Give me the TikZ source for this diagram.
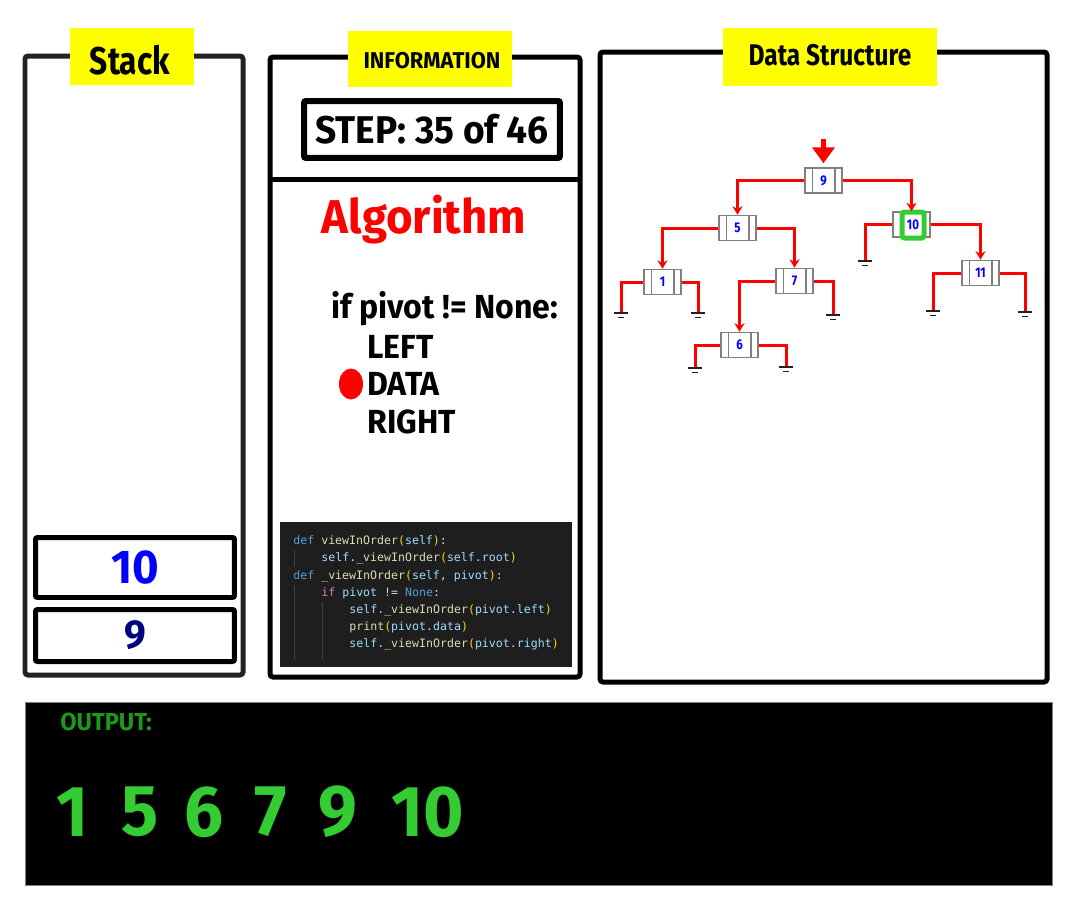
\documentclass[tikz,border=0pt]{standalone}
\usepackage{fontspec}
\setmainfont{Fira Sans}
\newfontfamily\headfont[FakeStretch=0.82]{Fira Sans}
\newfontfamily\widefont[FakeStretch=0.96]{Fira Sans}
\newfontfamily\codefont{DejaVu Sans Mono}
\usetikzlibrary{shapes.geometric,arrows.meta,positioning,calc}
\definecolor{panel_gray}{HTML}{222222}
\definecolor{tag_yellow}{HTML}{FFFF00}
\definecolor{tree_red}{HTML}{FF0000}
\definecolor{hl_green}{HTML}{33CC33}
\definecolor{out_green}{HTML}{1A9A1A}
\definecolor{code_bg}{HTML}{1E1E1E}
\definecolor{code_kw}{HTML}{569CD6}
\definecolor{code_fn}{HTML}{DCDCAA}
\definecolor{code_par}{HTML}{FFD700}
\definecolor{code_var}{HTML}{9CDCFE}
\definecolor{code_ctl}{HTML}{C586C0}
\definecolor{code_txt}{HTML}{D4D4D4}
\definecolor{code_guide}{HTML}{404040}
\newcommand{\ckw}[1]{\textcolor{code_kw}{#1}}
\newcommand{\cfn}[1]{\textcolor{code_fn}{#1}}
\newcommand{\cpar}[1]{\textcolor{code_par}{#1}}
\newcommand{\cvar}[1]{\textcolor{code_var}{#1}}
\newcommand{\cctl}[1]{\textcolor{code_ctl}{#1}}
\newcommand{\hfs}[1]{\headfont\bfseries\fontsize{#1}{#1}\selectfont}
\newcommand{\wfs}[1]{\widefont\bfseries\fontsize{#1}{#1}\selectfont}
\tikzset{panel/.style={draw=black, line width=0.1cm, rounded corners=0.06cm}}
\tikzset{tag/.style={fill=tag_yellow, inner sep=0pt}}
\tikzset{stackbox/.style={draw=black, line width=0.1cm, rounded corners=0.04cm, minimum width=3.98cm, inner sep=0pt}}
\tikzset{treenode/.style={draw=gray, line width=0.03cm, fill=white, minimum width=0.74cm, minimum height=0.5cm, inner sep=0pt, text=blue, font=\hfs{8}}}
\tikzset{link/.style={draw=tree_red, line width=0.06cm, -{Stealth[length=0.17cm, width=0.2cm]}}}
\tikzset{nulllink/.style={draw=tree_red, line width=0.06cm}}
\tikzset{groundbar/.style={draw=panel_gray, line width=0.03cm}}
\tikzset{codeline/.style={anchor=west, inner sep=0pt, text=code_txt, font=\codefont\fontsize{6.6}{6.6}\selectfont}}
\tikzset{pseudo/.style={anchor=west, inner sep=0pt, font=\wfs{19}}}

\begin{document}
\begin{tikzpicture}[x=0.02cm, y=-0.02cm]
  \useasboundingbox (0,0) rectangle (1080,900);

  % panels
  \draw[panel, draw=panel_gray] (25,56) rectangle (243,675);
  \draw[panel] (270,57) rectangle (580,677);
  \draw[panel] (600,52) rectangle (1047,682);
  \draw[line width=0.1cm] (270,179) -- (580,179);
  \draw[fill=black, draw=gray, line width=0.02cm] (25,702) rectangle (1052,885);

  % panel titles
  \node[tag, minimum width=2.48cm, minimum height=1.14cm] (tag-stack) at (132,56.5) {};
  \node[font=\hfs{22}, inner sep=0pt] (title-stack) at (130,60) {Stack};
  \node[tag, minimum width=3.28cm, minimum height=1.12cm] (tag-info) at (430,59) {};
  \node[font=\wfs{13}, inner sep=0pt] (title-info) at (432,61) {INFORMATION};
  \node[tag, minimum width=4.28cm, minimum height=1.16cm] (tag-ds) at (830,57) {};
  \node[font=\hfs{17}, inner sep=0pt] (title-ds) at (830,55) {Data Structure};

  % stack
  \node[stackbox, minimum height=1.2cm, text=blue, font=\wfs{27}] (stack-10) at (135,567.5) {10};
  \node[stackbox, minimum height=1.04cm, text=blue!50!black, font=\wfs{23}] (stack-9) at (135,635.5) {9};

  % information
  \node[draw=black, line width=0.12cm, rounded corners=0.04cm, minimum width=5.12cm, minimum height=1.14cm, font=\wfs{22}] (step) at (432,129.5) {STEP: 35 of 46};
  \node[text=red, font=\wfs{27}, inner sep=0pt] (algo) at (424,220) {Algorithm};
  \node[pseudo] (if-line) at (331,309) {if pivot != None:};
  \node[pseudo] (left-line) at (367,347) {LEFT};
  \node[pseudo] (data-line) at (367,384) {DATA};
  \node[pseudo] (right-line) at (367,422) {RIGHT};
  \node[fill=red, ellipse, minimum width=0.48cm, minimum height=0.62cm, inner sep=0pt] (cursor) at (351,384) {};

  % code
  \fill[code_bg] (280,522) rectangle (572,667);
  \draw[code_guide, line width=0.02cm] (294,550) -- (294,567) (294,585) -- (294,660) (322,602) -- (322,660);
  \node[codeline] (code-1) at (293,541) {\ckw{def} \cfn{viewInOrder}\cpar{(}\cvar{self}\cpar{)}:};
  \node[codeline] (code-2) at (321,558) {\cvar{self}.\cfn{\_viewInOrder}\cpar{(}\cvar{self}.\cvar{root}\cpar{)}};
  \node[codeline] (code-3) at (293,576) {\ckw{def} \cfn{\_viewInOrder}\cpar{(}\cvar{self}, \cvar{pivot}\cpar{)}:};
  \node[codeline] (code-4) at (321,593) {\cctl{if} \cvar{pivot} != \ckw{None}:};
  \node[codeline] (code-5) at (349,610) {\cvar{self}.\cfn{\_viewInOrder}\cpar{(}\cvar{pivot}.\cvar{left}\cpar{)}};
  \node[codeline] (code-6) at (349,627) {\cfn{print}\cpar{(}\cvar{pivot}.\cvar{data}\cpar{)}};
  \node[codeline] (code-7) at (349,644) {\cvar{self}.\cfn{\_viewInOrder}\cpar{(}\cvar{pivot}.\cvar{right}\cpar{)}};

  % tree
  \node[treenode] (n9) at (823.5,180.5) {9};
  \node[treenode] (n5) at (737.5,228) {5};
  \node[treenode] (n10) at (911.5,224.5) {};
  \node[treenode] (n1) at (662.5,282) {1};
  \node[treenode] (n7) at (794.5,281) {7};
  \node[treenode] (n11) at (980.5,273) {11};
  \node[treenode] (n6) at (739.5,345) {6};
  \foreach \n in {n9,n5,n10,n1,n7,n11,n6}
    \draw[gray, line width=0.03cm] ([xshift=0.16cm]\n.north west) -- ([xshift=0.16cm]\n.south west)
      ([xshift=-0.16cm]\n.north east) -- ([xshift=-0.16cm]\n.south east);
  \node[draw=hl_green, line width=0.1cm, rounded corners=0.05cm, fill=white, minimum width=0.44cm, minimum height=0.52cm, inner sep=0pt, text=blue, font=\hfs{8}] (hl10) at (913,225) {10};

  \coordinate (top) at (823.5,139);
  \draw[tree_red, line width=0.1cm, -{Triangle[length=0.32cm, width=0.44cm]}, shorten >=0.08cm] (top) -- (n9.north);

  \draw[link] (n9.west) -| (n5.north);
  \draw[link] (n9.east) -| (n10.north);
  \draw[link] (n5.west) -| (n1.north);
  \draw[link] (n5.east) -| (n7.north);
  \draw[link] (n7.west) -| (n6.north);
  \draw[link] (n10.east) -| (n11.north);

  % empty children
  \coordinate (g1l) at (621,313);
  \coordinate (g1r) at (698,313);
  \coordinate (g7r) at (833,315);
  \coordinate (g6l) at (695,368);
  \coordinate (g6r) at (786,367);
  \coordinate (g10l) at (865,261);
  \coordinate (g11l) at (933,311);
  \coordinate (g11r) at (1025,312);
  \draw[nulllink] (n1.west) -| (g1l);
  \draw[nulllink] (n1.east) -| (g1r);
  \draw[nulllink] (n7.east) -| (g7r);
  \draw[nulllink] (n6.west) -| (g6l);
  \draw[nulllink] (n6.east) -| (g6r);
  \draw[nulllink] (n10.west) -| (g10l);
  \draw[nulllink] (n11.west) -| (g11l);
  \draw[nulllink] (n11.east) -| (g11r);
  \foreach \g in {g1l,g1r,g7r,g6l,g6r,g10l,g11l,g11r} {
    \draw[groundbar] ([xshift=-0.14cm]\g) -- ++(0.28cm,0);
    \draw[groundbar] ([xshift=-0.06cm, yshift=-0.09cm]\g) -- ++(0.12cm,0);
  }

  % output
  \node[anchor=west, inner sep=0pt, text=out_green, font=\wfs{14}] (out-label) at (60,722) {OUTPUT:};
  \foreach \v/\x in {1/73,5/140,6/204,7/271,9/338,10/428}
    \node[text=hl_green, font=\wfs{41}, inner sep=0pt] (out-\v) at (\x,812) {\v};
\end{tikzpicture}
\end{document}
